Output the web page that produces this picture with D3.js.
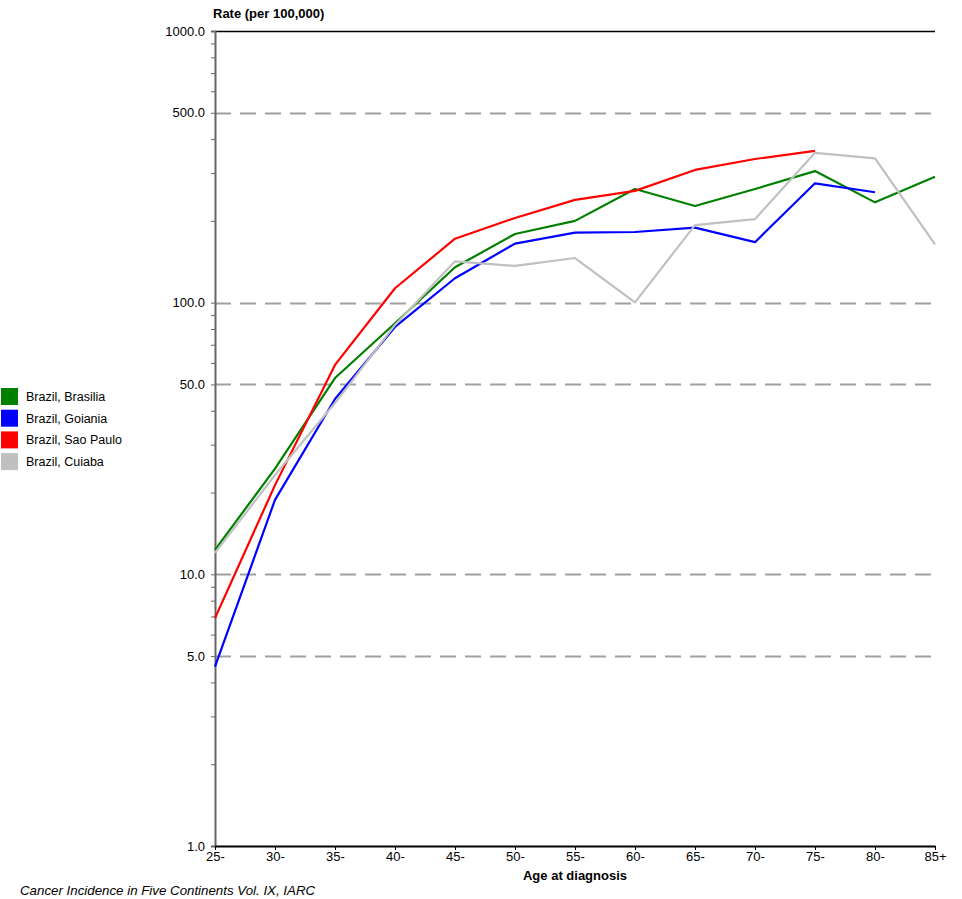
<!DOCTYPE html>
<html>
<head>
<meta charset="utf-8">
<script src="https://cdn.jsdelivr.net/npm/d3@7"></script>
<style>
  body { margin: 0; background: #fff; }
  svg text { font-family: "Liberation Sans", Arial, sans-serif; }
</style>
</head>
<body>
<div id="chart"></div>
<script>
// Age groups along the x axis
const ages = ["25-", "30-", "35-", "40-", "45-", "50-", "55-", "60-", "65-", "70-", "75-", "80-", "85+"];

// Rates per 100,000 (null = no value)
const brasilia = [12.3, 24.5, 52.8, 84, 135, 179, 200, 262, 227, 262, 305, 234, 291];
const goiania  = [4.57, 18.8, 44.2, 81.4, 123, 165, 181, 182, 189, 167, 275, 255, null];
const saoPaulo = [6.9, 21.3, 59, 113, 172, 205, 239, 258, 308, 338, 362, null, null];
const cuiaba   = [12.0, 23.2, 42.7, 82.8, 142, 136.5, 146, 100.3, 193, 203, 356, 340, 164];

const seriesNames = ["Brazil, Brasilia", "Brazil, Goiania", "Brazil, Sao Paulo", "Brazil, Cuiaba"];
const seriesColors = ["#008000", "#0000ff", "#ff0000", "#c0c0c0"];
const seriesValues = [brasilia, goiania, saoPaulo, cuiaba];

// y ticks
const majorTicks = [1, 5, 10, 50, 100, 500, 1000];
const gridTicks = [5, 10, 50, 100, 500];

const width = 962;
const height = 899;
const margin = {left: 215, right: 27, top: 31, bottom: 53};

const svg = d3.select("#chart")
  .append("svg")
  .attr("width", width)
  .attr("height", height);

const xScale = d3.scalePoint()
  .domain(ages)
  .range([margin.left, width - margin.right]);

const yScale = d3.scaleLog()
  .domain([1, 1000])
  .range([height - margin.bottom, margin.top]);

// all log minor ticks 1..1000
let allTicks = [];
[1, 10, 100].forEach(function (base) {
  for (let i = 1; i < 10; i++) allTicks.push(base * i);
});
allTicks.push(1000);

// dashed gridlines
svg.append("g")
  .selectAll("line")
  .data(gridTicks)
  .enter()
  .append("line")
  .attr("x1", margin.left)
  .attr("x2", width - margin.right)
  .attr("y1", (d) => Math.round(yScale(d)) + 0.5)
  .attr("y2", (d) => Math.round(yScale(d)) + 0.5)
  .attr("stroke", "#a0a0a0")
  .attr("stroke-width", 2)
  .attr("stroke-dasharray", "16,9");

// top border
svg.append("line")
  .attr("x1", margin.left)
  .attr("x2", width - margin.right)
  .attr("y1", margin.top + 0.5)
  .attr("y2", margin.top + 0.5)
  .attr("stroke", "#000")
  .attr("stroke-width", 1.5);

// left axis
const yAxis = svg.append("g")
  .attr("transform", `translate(${margin.left}, 0)`)
  .call(d3.axisLeft(yScale)
    .tickValues(allTicks)
    .tickSize(4)
    .tickFormat((d) => majorTicks.includes(d) ? d3.format(".1f")(d) : ""));
yAxis.select(".domain").attr("stroke", "#666").attr("stroke-width", 2);
yAxis.selectAll(".tick line").attr("stroke", "#666");
yAxis.selectAll("text")
  .attr("font-size", "13px")
  .attr("fill", "#000")
  .attr("x", -10)
  .attr("font-family", "Liberation Sans, Arial, sans-serif");

// bottom axis
const xAxis = svg.append("g")
  .attr("transform", `translate(0, ${height - margin.bottom})`)
  .call(d3.axisBottom(xScale).tickSize(4).tickSizeOuter(0));
xAxis.select(".domain").attr("stroke", "#000").attr("stroke-width", 2);
xAxis.selectAll(".tick line").attr("stroke", "#000");
xAxis.selectAll("text")
  .attr("font-size", "13px")
  .attr("fill", "#000")
  .attr("y", 6)
  .attr("font-family", "Liberation Sans, Arial, sans-serif");

// series lines
const line = d3.line()
  .defined((d) => d != null)
  .x((d, i) => xScale(ages[i]))
  .y((d) => yScale(d));

svg.append("g")
  .selectAll("path")
  .data(seriesValues)
  .enter()
  .append("path")
  .attr("d", (d) => line(d))
  .attr("fill", "none")
  .attr("stroke", (d, i) => seriesColors[i])
  .attr("stroke-width", 2.2)
  .attr("stroke-linejoin", "round");

// titles
svg.append("text")
  .attr("x", 213)
  .attr("y", 18)
  .attr("font-size", "13px")
  .attr("font-weight", "bold")
  .text("Rate (per 100,000)");

svg.append("text")
  .attr("x", (margin.left + width - margin.right) / 2)
  .attr("y", 880)
  .attr("text-anchor", "middle")
  .attr("font-size", "13px")
  .attr("font-weight", "bold")
  .text("Age at diagnosis");

svg.append("text")
  .attr("x", 20)
  .attr("y", 895)
  .attr("font-size", "13.3px")
  .attr("font-style", "italic")
  .text("Cancer Incidence in Five Continents Vol. IX, IARC");

// legend
const legend = svg.append("g")
  .selectAll("g")
  .data(seriesNames)
  .enter()
  .append("g")
  .attr("transform", (d, i) => `translate(1, ${388 + i * 21.7})`);

legend.append("rect")
  .attr("width", 17)
  .attr("height", 17)
  .attr("fill", (d, i) => seriesColors[i]);

legend.append("text")
  .attr("x", 25)
  .attr("y", 13)
  .attr("font-size", "12.5px")
  .text((d) => d);
</script>
</body>
</html>
